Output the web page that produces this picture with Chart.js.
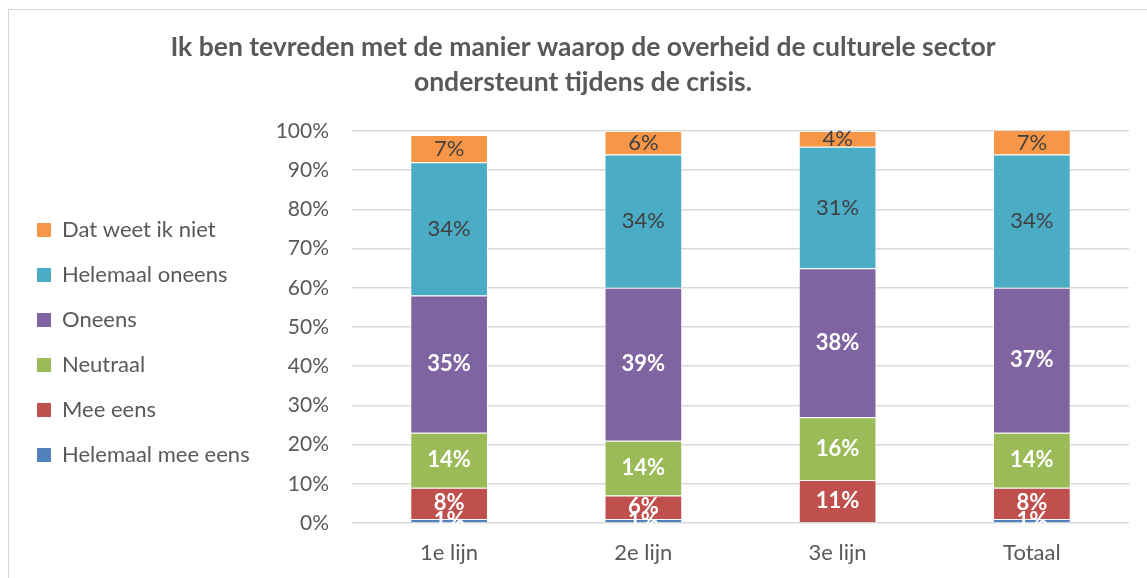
<!DOCTYPE html>
<html>
<head>
<meta charset="utf-8">
<script src="https://cdn.jsdelivr.net/npm/chart.js@4.4.0/dist/chart.umd.min.js"></script>
<style>
  html, body { margin: 0; padding: 0; overflow: hidden; background: #fff; }
  #wrap { position: absolute; left: 0; top: 0; width: 1166px; height: 578px; }
  #frame { position: absolute; left: 8px; top: 9px; width: 1300px; height: 700px;
           border-left: 1px solid #d4d4d4; border-top: 1px solid #d4d4d4; pointer-events: none; }
</style>
</head>
<body>
<div id="wrap"><canvas id="myChart"></canvas></div>
<div id="frame"></div>
<script>
const categories = ["1e lijn", "2e lijn", "3e lijn", "Totaal"];
const seriesNames = ["Helemaal mee eens", "Mee eens", "Neutraal", "Oneens", "Helemaal oneens", "Dat weet ik niet"];
const helemaalMeeEens = [1, 1, 0, 1];
const meeEens = [8, 6, 11, 8];
const neutraal = [14, 14, 16, 14];
const oneens = [35, 39, 38, 37];
const helemaalOneens = [34, 34, 31, 34];
const weetNiet = [7, 6, 4, 7];
const seriesColors = ["#4F81BD", "#C0504D", "#9BBB59", "#8064A2", "#4BACC6", "#F79646"];
const titleLines = ["Ik ben tevreden met de manier waarop de overheid de culturele sector", "ondersteunt tijdens de crisis."];

const FONT = "Lato";
const TEXT = "#595959";

const allSeries = [helemaalMeeEens, meeEens, neutraal, oneens, helemaalOneens, weetNiet];
const datasets = allSeries.map((vals, i) => ({
  label: seriesNames[i],
  data: vals,
  backgroundColor: seriesColors[i],
  borderColor: "rgba(255,255,255,0.55)",
  borderWidth: 1,
}));

// labels in the middle of each segment
const segmentLabels = {
  id: "segmentLabels",
  afterDatasetsDraw(chart) {
    const c = chart.ctx;
    const area = chart.chartArea;
    c.save();
    c.beginPath();
    c.rect(area.left, area.top - 5, area.right - area.left, area.bottom - area.top + 6);
    c.clip();
    c.textAlign = "center";
    c.textBaseline = "middle";
    chart.data.datasets.forEach((ds, i) => {
      const meta = chart.getDatasetMeta(i);
      const light = i < 4;
      c.font = (light ? "bold " : "") + "22px " + FONT;
      c.fillStyle = light ? "#ffffff" : "#404040";
      meta.data.forEach((bar, j) => {
        const v = ds.data[j];
        if (!v) return;
        const top = Math.max(bar.y, area.top);
        const y = (top + bar.base) / 2;
        c.fillText(v + "%", bar.x, y);
      });
    });
    c.restore();
  },
};

const ctx = document.getElementById("myChart");
const chart = new Chart(ctx, {
  type: "bar",
  data: { labels: categories, datasets: datasets },
  plugins: [segmentLabels],
  options: {
    maintainAspectRatio: false,
    animation: false,
    layout: { padding: { left: 14, right: 14, top: 0, bottom: 0 } },
    plugins: {
      tooltip: { enabled: false },
      title: {
        display: true,
        text: titleLines,
        color: TEXT,
        font: { family: FONT, size: 26.5, weight: "bold", lineHeight: 1.32 },
        padding: { top: 29.5, bottom: 31.5 },
      },
      legend: {
        position: "left",
        reverse: true,
        maxWidth: 300,
        title: { display: true, text: "", font: { size: 10, lineHeight: 1 }, padding: { top: 97, bottom: 0 } },
        labels: {
          boxWidth: 14,
          boxHeight: 14,
          padding: 23,
          color: TEXT,
          font: { family: FONT, size: 22 },
          generateLabels(ch) {
            const items = Chart.defaults.plugins.legend.labels.generateLabels(ch);
            items.forEach((it) => { it.lineWidth = 0; });
            return items;
          },
        },
      },
    },
    datasets: {
      bar: { categoryPercentage: 1, barPercentage: 0.4 },
    },
    scales: {
      x: {
        stacked: true,
        grid: { display: false, drawTicks: false },
        border: { display: false },
        ticks: { color: TEXT, font: { family: FONT, size: 22 }, padding: 17 },
        afterFit(scale) { scale.height = 55; },
      },
      y: {
        stacked: true,
        min: 0,
        max: 100,
        grid: { color: "#d9d9d9", lineWidth: 1.5, drawTicks: false },
        border: { display: false },
        ticks: {
          stepSize: 10,
          padding: 23,
          color: TEXT,
          font: { family: FONT, size: 21 },
          callback: (v) => v + "%",
        },
        afterFit(scale) {
          scale.width = 352 - 14 - scale.chart.legend.width;
        },
      },
      yRight: {
        type: "linear",
        position: "right",
        display: true,
        grid: { display: false, drawTicks: false },
        border: { display: false },
        ticks: { display: false },
        afterFit(scale) { scale.width = 23; },
      },
    },
  },
});
</script>
</body>
</html>
